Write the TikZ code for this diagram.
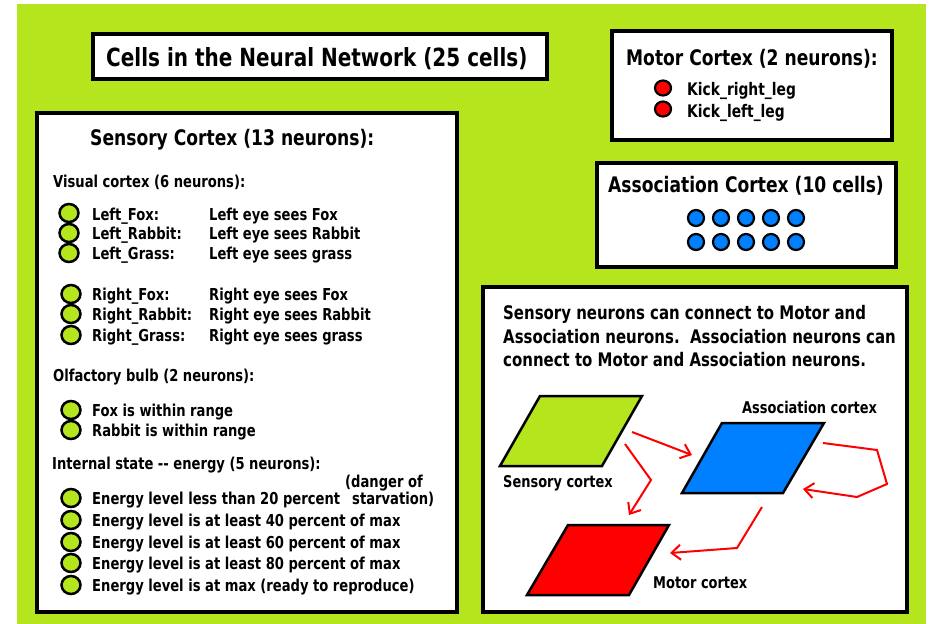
\documentclass[tikz,border=0pt]{standalone}
\usepackage{fontspec}
\setmainfont{DejaVu Sans}[FakeStretch=0.80]
\usetikzlibrary{arrows.meta,shapes.geometric}
\definecolor{limeG}{RGB}{181,230,29}
\definecolor{cellblue}{RGB}{0,128,255}
\definecolor{cellred}{RGB}{255,0,0}
\newcommand\fsTitle{\fontsize{25}{30}\selectfont}
\newcommand\fsHead{\fontsize{21.4}{26}\selectfont}
\newcommand\fsBody{\fontsize{16.4}{19}\selectfont}
\newcommand\fsKick{\fontsize{17.3}{20}\selectfont}
\newcommand\fsExpl{\fontsize{18.7}{23}\selectfont}
\newcommand\fsLab{\fontsize{16.2}{20}\selectfont}
\tikzset{
  panel/.style={draw=black, line width=4pt, fill=white, anchor=north west, inner sep=0pt},
  txt/.style={anchor=base west, inner sep=0pt, font=\bfseries\fsBody},
  cellg/.style={ellipse, draw=black, line width=2.5pt, fill=limeG, minimum width=19pt, minimum height=18pt, inner sep=0pt},
  cellr/.style={ellipse, draw=black, line width=2.2pt, fill=cellred, minimum width=16pt, minimum height=15pt, inner sep=0pt},
  cellb/.style={circle, draw=black, line width=2.2pt, fill=cellblue, minimum size=16pt, inner sep=0pt},
  region/.style={draw=black, line width=2.5pt, line join=miter},
  conn/.style={draw=cellred, line width=2pt, line join=miter, -{Straight Barb[length=9pt,width=15pt,line width=2pt]}}
}
\begin{document}
\begin{tikzpicture}[x=1pt,y=-1pt]
\useasboundingbox (0,0) rectangle (932,624);
\fill[white] (0,0) rectangle (932,624);
\fill[limeG] (17,4) rectangle (926,624);

% panels
\node[panel, minimum width=454pt, minimum height=45pt] (titlebox) at (91,32) {};
\node[panel, minimum width=280pt, minimum height=109pt] (motorbox) at (610,29) {};
\node[panel, minimum width=299pt, minimum height=104pt] (assocbox) at (595,161) {};
\node[panel, minimum width=420pt, minimum height=499pt] (sensbox) at (35,111) {};
\node[panel, minimum width=424pt, minimum height=325pt] (explbox) at (481,285) {};

% title
\node[txt, font=\bfseries\fsTitle] (title) at (106,66) {Cells in the Neural Network (25 cells)};

% motor cortex
\node[txt, font=\bfseries\fsHead] (mtitle) at (626,65) {Motor Cortex (2 neurons):};
\node[cellr] (m1) at (663,88) {};
\node[cellr] (m2) at (663,109) {};
\node[txt, font=\bfseries\fsKick] (m1t) at (687,95) {Kick\_right\_leg};
\node[txt, font=\bfseries\fsKick] (m2t) at (687,117) {Kick\_left\_leg};

% association cortex
\node[txt, font=\bfseries\fsHead] (atitle) at (608,192) {Association Cortex (10 cells)};
\foreach \i in {0,...,4}{
  \node[cellb] (ar\i) at (696+25*\i,218) {};
  \node[cellb] (as\i) at (696+25*\i,242) {};
}

% sensory cortex
\node[txt, font=\bfseries\fsHead] (stitle) at (90,145) {Sensory Cortex (13 neurons):};
\node[txt] (vis) at (53,187) {Visual cortex (6 neurons):};
\node[cellg] (c1) at (69,213) {};
\node[cellg] (c2) at (69,233) {};
\node[cellg] (c3) at (69,253) {};
\node[cellg] (c4) at (71,294) {};
\node[cellg] (c5) at (71,314) {};
\node[cellg] (c6) at (71,335) {};
\node[txt] (n1) at (92,220) {Left\_Fox:};
\node[txt] (n2) at (92,239) {Left\_Rabbit:};
\node[txt] (n3) at (92,259) {Left\_Grass:};
\node[txt] (n4) at (92,300) {Right\_Fox:};
\node[txt] (n5) at (92,320) {Right\_Rabbit:};
\node[txt] (n6) at (92,341) {Right\_Grass:};
\node[txt] (d1) at (209,220) {Left eye sees Fox};
\node[txt] (d2) at (209,239) {Left eye sees Rabbit};
\node[txt] (d3) at (209,259) {Left eye sees grass};
\node[txt] (d4) at (209,300) {Right eye sees Fox};
\node[txt] (d5) at (209,320) {Right eye sees Rabbit};
\node[txt] (d6) at (209,341) {Right eye sees grass};

\node[txt] (olf) at (53,381) {Olfactory bulb (2 neurons):};
\node[cellg] (o1) at (71,410) {};
\node[cellg] (o2) at (71,430) {};
\node[txt] (o1t) at (92,416) {Fox is within range};
\node[txt] (o2t) at (92,436) {Rabbit is within range};

\node[txt] (ints) at (52,469) {Internal state -{}- energy (5 neurons):};
\node[cellg] (e1) at (71,498) {};
\node[cellg] (e2) at (71,520) {};
\node[cellg] (e3) at (71,542) {};
\node[cellg] (e4) at (71,563) {};
\node[cellg] (e5) at (71,585) {};
\node[txt] (e1t) at (92,504) {Energy level less than 20 percent};
\node[txt] (e2t) at (92,526) {Energy level is at least 40 percent of max};
\node[txt] (e3t) at (92,548) {Energy level is at least 60 percent of max};
\node[txt] (e4t) at (92,569) {Energy level is at least 80 percent of max};
\node[txt] (e5t) at (92,591) {Energy level is at max (ready to reproduce)};
\node[txt] (dang1) at (345,487) {(danger of};
\node[txt] (dang2) at (352,504) {starvation)};

% explanation
\node[txt, font=\bfseries\fsExpl] (x1) at (503,319) {Sensory neurons can connect to Motor and};
\node[txt, font=\bfseries\fsExpl] (x2) at (503,343) {Association neurons.\ \ Association neurons can};
\node[txt, font=\bfseries\fsExpl] (x3) at (503,366) {connect to Motor and Association neurons.};

% regions
\filldraw[region, fill=limeG] (540,396) -- (642,396) -- (602,466) -- (500,466) -- cycle;
\filldraw[region, fill=cellblue] (722,423) -- (824,423) -- (783,493) -- (682,493) -- cycle;
\filldraw[region, fill=cellred] (568,525) -- (669,525) -- (629,595) -- (527,595) -- cycle;
\node[txt, font=\bfseries\fsLab] (lsens) at (503,487) {Sensory cortex};
\node[txt, font=\bfseries\fsLab] (lassoc) at (742,413) {Association cortex};
\node[txt, font=\bfseries\fsLab] (lmotor) at (653,588) {Motor cortex};

% connectors
\coordinate (sa0) at (632,432); \coordinate (sa1) at (692,455);
\coordinate (sm0) at (625,444); \coordinate (sm1) at (629,515);
\coordinate (aa0) at (823,443); \coordinate (aa1) at (803,489);
\coordinate (am0) at (762,507); \coordinate (am1) at (670,553);
\draw[conn] (sa0) -- (sa1);
\draw[conn] (sm0) -- (651,480) -- (sm1);
\draw[conn] (aa0) -- (877,450) -- (887,484) -- (857,497) -- (aa1);
\draw[conn] (am0) -- (737,548) -- (am1);
\end{tikzpicture}
\end{document}
